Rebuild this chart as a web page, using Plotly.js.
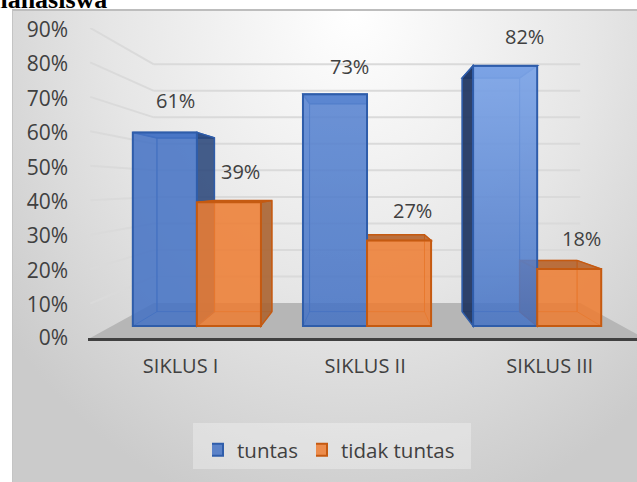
<!DOCTYPE html>
<html><head><meta charset="utf-8">
<script src="https://cdn.plot.ly/plotly-3.0.1.min.js"></script>
<style>
html,body{margin:0;padding:0;background:#fff;width:637px;height:482px;overflow:hidden}
#bg{position:absolute;left:12px;top:9px;width:625px;height:473px;box-sizing:border-box;border-top:2px solid #bdbdbd;border-left:1px solid #c4c4c4;
background:radial-gradient(ellipse 440px 520px at 340px 0px,#ffffff 0%,#e6e6e6 55%,#cbcbcb 100%)}
#chart{position:absolute;left:0;top:0;width:637px;height:482px}
</style></head><body>
<div id="bg"></div><div id="chart"></div>
<script>
const categories = ['SIKLUS I','SIKLUS II','SIKLUS III'];
const tuntas = [61,73,82];
const tidakTuntas = [39,27,18];
const yTicks = [0,10,20,30,40,50,60,70,80,90];

// 3-D look: depth planes are scaled towards a vanishing point, in axis units
const VX = 1, VY = 44.2, S_FRONT = 0.922, S_BAR_BACK = 0.827, S_BACK = 0.77;
const BAR_W = 0.3765;
const xRange = [-0.512, 2.463], yRange = [0, 90];
const labelShift = {tuntas:[[11,32],[15,28],[19,29]], tidak:[[12,31],[13,30],[12,30]]};
const glow = [0, 0.2, 0.55];

const toU = (X,s)=>VX+(X-VX)/s, toV=(Y,s)=>VY+(Y-VY)/s;
const X = (u,s)=>VX+(u-VX)*s, Y=(v,s)=>VY+(v-VY)*s;
const P = (u,v,s)=>[X(u,s),Y(v,s)];
const path = pts=>'M'+pts.map(p=>p[0].toFixed(4)+' '+p[1].toFixed(4)).join('L')+'Z';
const poly=(pts,fill,line,w)=>({type:'path',xref:'x',yref:'y',layer:'below',path:path(pts),fillcolor:fill,line:{color:line||'rgba(0,0,0,0)',width:w||0}});
const seg=(a,b,c,w)=>({type:'line',xref:'x',yref:'y',layer:'below',x0:a[0],y0:a[1],x1:b[0],y1:b[1],line:{color:c,width:w}});

const shapes=[];
// legend panel
shapes.push({type:'rect',xref:'paper',yref:'paper',layer:'below',x0:(193-88)/549,x1:(471-88)/549,y0:(338-469)/310,y1:(338-423)/310,fillcolor:'rgba(255,255,255,0.3)',line:{width:0}});
// floor
const wL=-0.5,wR=2.5;
shapes.push(poly([[X(wL,1),Y(0,1)],[X(wL,S_BACK),Y(0,S_BACK)],[X(wR,S_BACK),Y(0,S_BACK)],[X(wR,1),Y(0,1)]],'#b6b6b6'));
// walls
yTicks.slice(1).forEach(v=>{
  shapes.push(seg([X(wL,S_BACK),Y(v,S_BACK)],[X(wR,S_BACK),Y(v,S_BACK)],'#dadada',2));
  shapes.push(seg([X(wL,1),Y(v,1)],[X(wL,S_BACK),Y(v,S_BACK)],'#dadada',2));
});
// bar boxes: faces behind the front faces
function box(u0,u1,v,c){
  const sf=S_FRONT,sb=S_BAR_BACK;
  const b0=P(u0,0,sb),b1=P(u1,0,sb),t0=P(u0,v,sb),t1=P(u1,v,sb);
  const f0=P(u0,0,sf),f1=P(u1,0,sf),g0=P(u0,v,sf),g1=P(u1,v,sf);
  shapes.push(poly([b0,b1,t1,t0],c.back,c.edge,1));
  shapes.push(poly([g0,g1,t1,t0],c.top,c.line,1.5));
  // left side shows when the bar is right of the vanishing point, right side when left of it
  if(u0>VX) shapes.push(poly([f0,g0,t0,b0],c.sideL,c.line,1.5));
  else shapes.push(poly([f0,g0,t0,b0],c.inner,c.edge,1));
  if(u1<VX) shapes.push(poly([f1,g1,t1,b1],c.sideR,c.line,1.5));
  else shapes.push(poly([f1,g1,t1,b1],c.inner,c.edge,1));
}
const blueC={back:'rgba(68,114,196,0.08)',top:'rgba(68,114,196,0.8)',sideL:'rgba(30,52,96,0.92)',sideR:'rgba(40,68,120,0.85)',inner:'rgba(68,114,196,0.08)',line:'#2F5DAA',edge:'rgba(47,93,170,0.75)'};
const oranC={back:'rgba(237,125,49,0.08)',top:'rgba(180,96,40,0.88)',sideL:'rgba(170,100,50,0.9)',sideR:'rgba(170,100,50,0.9)',inner:'rgba(237,125,49,0.08)',line:'#C55A11',edge:'rgba(197,90,17,0.75)'};
categories.forEach((c,i)=>{
  box(i-BAR_W,i,tuntas[i],blueC);
  box(i,i+BAR_W,tidakTuntas[i],oranC);
});

const idx=categories.map((_,i)=>i);
const traces=[
 {type:'bar',name:'tuntas',legend:'legend',x:idx,y:tuntas,xaxis:'x2',yaxis:'y2',marker:{color:'rgba(68,114,196,0.85)',line:{color:'#2F5DAA',width:2}},hoverinfo:'skip'},
 {type:'bar',name:'tidak tuntas',legend:'legend2',x:idx,y:tidakTuntas,xaxis:'x2',yaxis:'y2',marker:{color:'rgba(237,125,49,0.85)',line:{color:'#C55A11',width:2}},hoverinfo:'skip'}
];
glow.forEach((a,i)=>{ if(!a) return;
  const v=tuntas[i]-0.4,l=i-BAR_W+0.006,r=i-0.006;
  traces.push({type:'scatter',mode:'none',x:[l,r,r,l,l],y:[0.4,0.4,v,v,0.4],xaxis:'x2',yaxis:'y2',fill:'toself',showlegend:false,hoverinfo:'skip',
    fillcolor:'rgba(255,255,255,0)',
    fillgradient:{type:'vertical',colorscale:[[0,'rgba(165,200,255,0)'],[1,'rgba(165,200,255,'+a+')']]}});
});
const annFont={family:'"Open Sans",sans-serif',size:20,color:'#404040'};
const anns=[];
categories.forEach((c,i)=>{
  anns.push({xref:'x2',yref:'y2',x:i-BAR_W/2,y:tuntas[i],text:tuntas[i]+'%',showarrow:false,font:annFont,xshift:labelShift.tuntas[i][0],yshift:labelShift.tuntas[i][1]});
  anns.push({xref:'x2',yref:'y2',x:i+BAR_W/2,y:tidakTuntas[i],text:tidakTuntas[i]+'%',showarrow:false,font:annFont,xshift:labelShift.tidak[i][0],yshift:labelShift.tidak[i][1]});
});
anns.push({xref:'paper',yref:'paper',x:(108-88)/549,y:(338-8)/310,xanchor:'right',yanchor:'bottom',text:'<b>mahasiswa</b>',showarrow:false,font:{family:'"Liberation Serif",serif',size:26,color:'#000'},yshift:-7,borderpad:0});

const legendBase=px=>({orientation:'h',x:(px-88)/549,y:(338-430)/310,xanchor:'left',yanchor:'top',bgcolor:'rgba(0,0,0,0)',font:{family:'"Open Sans",sans-serif',size:20.5,color:'#404040'},indentation:-15,itemclick:false,itemdoubleclick:false});
const layout={
 width:637,height:482,margin:{l:88,r:0,t:28,b:144,pad:0},
 paper_bgcolor:'rgba(0,0,0,0)',plot_bgcolor:'rgba(0,0,0,0)',
 barmode:'group',bargap:1-2*BAR_W,bargroupgap:0,
 shapes:shapes,annotations:anns,
 xaxis:{range:xRange,tickmode:'array',tickvals:[-0.01,0.99,1.99],ticktext:categories,showgrid:false,zeroline:false,showline:true,linecolor:'#404040',linewidth:3,ticks:'',ticklen:0,tickfont:annFont,ticklabelstandoff:8,fixedrange:true},
 yaxis:{range:yRange,tickmode:'array',tickvals:yTicks.map(v=>v===0?0:v-0.4),ticktext:yTicks.map(v=>v+'%'),showgrid:false,zeroline:false,showline:false,ticks:'',tickfont:{family:'"Open Sans",sans-serif',size:21,color:'#404040'},ticklabelstandoff:19,fixedrange:true},
 xaxis2:{overlaying:'x',range:[toU(xRange[0],S_FRONT),toU(xRange[1],S_FRONT)],visible:false,fixedrange:true},
 yaxis2:{overlaying:'y',range:[toV(yRange[0],S_FRONT),toV(yRange[1],S_FRONT)],visible:false,fixedrange:true},
 legend:legendBase(212),
 legend2:legendBase(316),
 showlegend:true
};
Plotly.newPlot('chart',traces,layout,{displayModeBar:false,staticPlot:true});
</script>
</body></html>
